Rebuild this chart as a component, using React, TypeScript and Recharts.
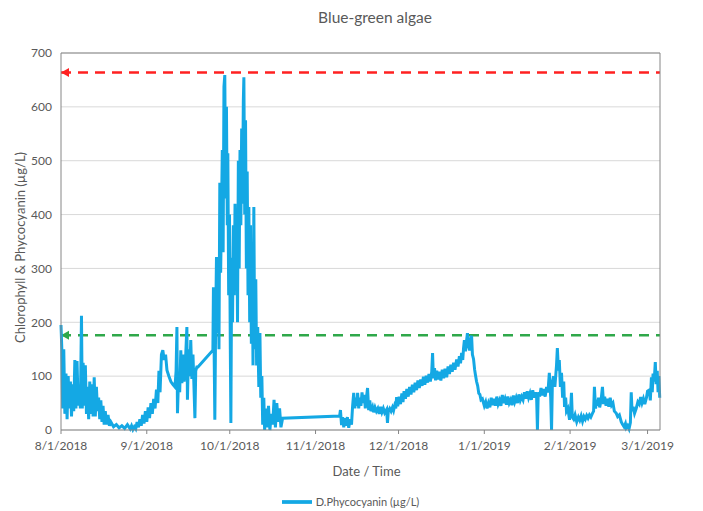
import React from 'react';
import { LineChart, Line, XAxis, YAxis, CartesianGrid, ReferenceLine, Legend } from 'recharts';

// x values are days counted from 8/1/2018
const monthTicks = [0, 31, 61, 92, 122, 153, 184, 212];
const monthLabels = ['8/1/2018', '9/1/2018', '10/1/2018', '11/1/2018', '12/1/2018', '1/1/2019', '2/1/2019', '3/1/2019'];
const leftTicks = [0, 100, 200, 300, 400, 500, 600, 700];
const rightTicks = [0, 0.2, 0.4, 0.6, 0.8, 1, 1.2];

const upperLimit = 664;
const lowerLimit = 176;

// [day, D.Phycocyanin ug/L]
const augReadings = [
	[0, 195], [0.3, 150], [0.6, 40], [1, 150], [1.4, 30], [1.8, 105], [2.2, 20], [2.6, 100], [3, 40], [3.4, 90],
	[3.8, 25], [4.2, 85], [4.6, 35], [5, 130], [5.4, 40], [5.8, 128], [6.2, 45], [6.6, 80], [7, 40], [7.4, 212],
	[7.7, 40], [8, 125], [8.4, 45], [8.8, 120], [9.2, 30], [9.6, 80], [10, 20], [10.4, 90], [10.8, 30], [11.2, 85],
	[11.6, 25], [12, 98], [12.4, 25], [12.8, 80], [13.2, 35], [13.6, 60], [14, 20], [14.4, 55], [14.8, 15], [15.2, 45],
	[15.6, 10], [16, 35], [16.5, 10], [17, 28], [17.5, 8], [18, 15], [19, 6], [20, 10], [21, 4], [22, 8],
	[23, 3], [24, 10], [25, 2], [25.5, 8], [26, 1], [26.5, 6], [27, 2], [27.5, 15], [28, 5], [28.5, 20],
	[29, 8], [29.5, 28], [30, 12], [30.5, 35],
];

const sepReadings = [
	[31, 15], [31.5, 42], [32, 22], [32.5, 50], [33, 30], [33.5, 58], [34, 40], [34.5, 75], [35, 50], [35.4, 110],
	[35.8, 70], [36.3, 140], [36.8, 148], [37.3, 130], [37.8, 140], [38.3, 111], [39, 100], [39.7, 90], [40.4, 85], [41.2, 80],
	[41.6, 110], [41.9, 191], [42.1, 31], [42.5, 100], [42.9, 70], [43.3, 148], [43.7, 87], [44.1, 140], [44.5, 90], [45, 130],
	[45.5, 191], [45.7, 56], [46.1, 150], [46.5, 100], [46.9, 167], [47.3, 95], [47.7, 140], [48, 90], [48.4, 22], [48.7, 110],
	[49.1, 117], [49.5, 117], [54.9, 148], [55.1, 265], [55.4, 120], [55.6, 19], [55.9, 200], [56.2, 321], [56.5, 180], [56.8, 300],
	[57.1, 150], [57.4, 459], [57.7, 292], [58, 400], [58.3, 520], [58.6, 330], [58.9, 637], [59.2, 659], [59.5, 430], [59.8, 600],
	[60.1, 380], [60.3, 514], [60.6, 250],
];

const octReadings = [
	[60.9, 400], [61.2, 150], [61.4, 13], [61.7, 320], [62, 200], [62.3, 380], [62.6, 250], [62.9, 420], [63.2, 300], [63.5, 390],
	[63.8, 200], [64.1, 500], [64.4, 300], [64.7, 520], [65, 380], [65.3, 560], [65.6, 420], [65.9, 610], [66.1, 655], [66.4, 400],
	[66.7, 575], [67, 300], [67.3, 480], [67.6, 250], [67.9, 414], [68.2, 200], [68.5, 380], [68.8, 160], [69.1, 300], [69.4, 120],
	[69.7, 414], [70, 150], [70.4, 280], [70.7, 120], [71.1, 191], [71.5, 80], [71.9, 180], [72.2, 60], [72.6, 100], [72.9, 10],
	[73.3, 60], [73.6, 0], [74, 40], [74.5, 5], [75, 45], [75.5, 0], [76, 30], [76.5, 10], [77, 56], [77.5, 5],
	[78, 50], [78.5, 15], [79, 40], [79.5, 5], [80.1, 22],
];

const novReadings = [
	[100.7, 26], [101, 37], [101.4, 9], [101.8, 24], [102.2, 5], [102.6, 22], [103, 8], [103.5, 24], [104, 4], [104.5, 20],
	[105, 10], [105.4, 45], [105.8, 69], [106.2, 40], [106.6, 60], [107, 45], [107.2, 69], [107.6, 40], [108, 60], [108.4, 45],
	[108.8, 70], [109.2, 50], [109.6, 65], [110, 40], [110.4, 60], [110.8, 78], [111.2, 37], [111.6, 55], [112, 35], [112.6, 43],
	[113, 33], [113.5, 42], [114, 35], [114.5, 40], [115, 30], [115.5, 43], [116, 33], [116.5, 40], [117, 32], [117.7, 38],
	[118, 13], [118.3, 35], [118.8, 40], [119.3, 35], [119.8, 42], [120.2, 36], [120.6, 45], [121, 40], [121.3, 61],
];

const decReadings = [
	[121.7, 44], [122.2, 62], [122.7, 48], [123.2, 68], [123.6, 52], [124, 72], [124.5, 58], [125, 76], [125.5, 62], [126, 80],
	[126.5, 66], [127, 84], [127.5, 70], [128, 88], [128.5, 74], [129, 92], [129.5, 78], [130, 94], [130.5, 82], [131, 99],
	[131.5, 84], [132, 101], [132.5, 88], [133, 104], [133.5, 90], [134, 108], [134.3, 143], [134.6, 96], [135, 115], [135.4, 92],
	[135.8, 110], [136.3, 94], [136.8, 108], [137.3, 92], [137.8, 112], [138.3, 96], [138.8, 114], [139.4, 98], [139.9, 118], [140.4, 104],
	[140.9, 121], [141.4, 108], [141.9, 125], [142.4, 112], [143, 131], [143.5, 118], [144, 137], [144.4, 124], [144.8, 143], [145.2, 130],
	[145.5, 152], [145.8, 167], [146.2, 146], [146.5, 162], [146.9, 180], [147.3, 156], [147.7, 148], [148, 168], [148.4, 175], [148.7, 140],
	[149.1, 132], [149.5, 112], [149.8, 102], [150.2, 90], [150.6, 82], [151, 68], [151.4, 66], [151.8, 56], [152.3, 58],
];

const janReadings = [
	[153, 45], [153.5, 52], [154, 40], [154.5, 50], [155, 42], [155.5, 60], [156, 46], [156.5, 58], [157, 45], [157.5, 62],
	[158, 48], [158.5, 55], [159, 45], [159.5, 65], [160, 50], [160.5, 58], [161, 47], [161.5, 62], [162, 50], [162.5, 56],
	[163, 46], [163.5, 64], [164, 52], [164.5, 60], [165, 50], [165.5, 66], [166, 55], [166.5, 62], [167, 56], [167.5, 70],
	[168, 58], [168.5, 72], [169, 60], [169.5, 68], [170, 56], [170.5, 74], [171, 60], [171.5, 70], [171.9, 62], [172.2, 0],
	[172.5, 70], [173, 62], [173.5, 78], [174, 64], [174.5, 76], [175, 62], [175.5, 80], [176, 70], [176.5, 106], [177, 60],
	[177.3, 0], [177.6, 87], [178, 100], [178.5, 80], [179.1, 120], [179.4, 152], [179.8, 110], [180.1, 130], [180.5, 80], [180.9, 106],
	[181.3, 60], [181.7, 90], [182, 43], [182.4, 60], [182.7, 35], [183.2, 40], [183.8, 19],
];

const febReadings = [
	[184.2, 40], [184.5, 69], [184.8, 24], [185.3, 20], [185.8, 28], [186.4, 15], [187, 24], [187.5, 18], [188, 26], [188.5, 16],
	[189, 25], [189.5, 20], [190, 27], [190.5, 22], [191, 28], [191.5, 24], [192, 30], [192.5, 35], [192.8, 80], [193.2, 40],
	[193.6, 56], [193.9, 45], [194.3, 60], [194.7, 42], [195.2, 55], [195.7, 80], [196.1, 48], [196.5, 62], [197, 45], [197.5, 58],
	[198, 43], [198.5, 60], [199, 46], [199.5, 50], [200, 35], [200.7, 31], [201.2, 25], [201.8, 28], [202.5, 15], [203, 10],
	[203.5, 6], [204, 12], [204.3, 4], [204.8, 8], [205.3, 2], [205.8, 14], [206.1, 70], [206.4, 35], [206.8, 43], [207.3, 31],
	[207.9, 40], [208.5, 52], [209, 48], [209.5, 61], [210, 50], [210.5, 58], [211, 48], [211.6, 60],
];

const marReadings = [
	[212, 72], [212.6, 74], [213, 55], [213.4, 98], [213.7, 70], [214, 105], [214.4, 90], [214.8, 126], [215.1, 85], [215.5, 110],
	[215.8, 70], [216.1, 100], [216.4, 60],
];

const allReadings = [...augReadings, ...sepReadings, ...octReadings, ...novReadings, ...decReadings, ...janReadings, ...febReadings, ...marReadings];

const gray = '#595959';
const axisGray = '#868686';

function LimitArrow(props: any) {
	const vb = props.viewBox;
	if (!vb) return null;
	const x = vb.x;
	const y = vb.y;
	return <polygon points={`${x},${y} ${x + 8},${y - 4.5} ${x + 8},${y + 4.5}`} fill={props.color} />;
}

export default function App() {
	var data = allReadings.map((r) => ({ day: r[0], phyco: r[1] }));

	return (
		<div style={{ position: 'relative', width: 695, height: 500, fontFamily: 'Lato, sans-serif' }}>
			<div style={{ position: 'absolute', left: 367, top: 0, transform: 'translateX(-50%)', fontSize: 15.5, color: gray, whiteSpace: 'nowrap' }}>
				Blue-green algae
			</div>
			<LineChart width={695} height={500} data={data} margin={{ top: 45, right: 0, bottom: 48, left: 0 }} style={{ fontFamily: 'Lato, sans-serif' }}>
				<CartesianGrid yAxisId="left" vertical={false} stroke="#d9d9d9" strokeWidth={1} />
				<XAxis
					dataKey="day"
					type="number"
					domain={[0, 216.5]}
					ticks={monthTicks}
					tickFormatter={(v) => monthLabels[monthTicks.indexOf(v)]}
					height={30}
					tickSize={4}
					tickMargin={7}
					stroke={axisGray}
					tick={{ fill: gray, fontSize: 12 }}
					label={(p: any) => (
						<text x={p.viewBox.x + p.viewBox.width / 2 + 6} y={p.viewBox.y + p.viewBox.height + 16} textAnchor="middle" fill={gray} fontSize={13}>
							Date / Time
						</text>
					)}
				/>
				<YAxis
					yAxisId="left"
					domain={[0, 700]}
					ticks={leftTicks}
					width={53}
					tickLine={false}
					tickMargin={3}
					stroke={axisGray}
					tick={{ fill: gray, fontSize: 12 }}
					label={(p: any) => {
						const cx = p.viewBox.x + 12;
						const cy = p.viewBox.y + p.viewBox.height / 2 + 6;
						return (
							<text x={cx} y={cy} transform={`rotate(-90 ${cx} ${cy})`} textAnchor="middle" dominantBaseline="central" fill={gray} fontSize={13}>
								Chlorophyll &amp; Phycocyanin (µg/L)
							</text>
						);
					}}
				/>
				<YAxis
					yAxisId="right"
					orientation="right"
					domain={[0, 1.2]}
					ticks={rightTicks}
					width={43}
					tickLine={false}
					tickMargin={6}
					stroke={axisGray}
					tick={{ fill: gray, fontSize: 12 }}
				/>
				<ReferenceLine yAxisId="left" y={700} stroke={axisGray} strokeWidth={1} />
				<ReferenceLine yAxisId="left" y={upperLimit} stroke="#ff2121" strokeWidth={2.5} strokeDasharray="10 7" label={<LimitArrow color="#ff2121" />} />
				<ReferenceLine yAxisId="left" y={lowerLimit} stroke="#2fa84a" strokeWidth={2.5} strokeDasharray="10 7" label={<LimitArrow color="#2fa84a" />} />
				<Line
					yAxisId="left"
					type="linear"
					dataKey="phyco"
					name="D.Phycocyanin (µg/L)"
					stroke="#14a8e4"
					strokeWidth={3}
					dot={false}
					legendType="plainline"
					isAnimationActive={false}
				/>
				<Legend
					layout="horizontal"
					verticalAlign="middle"
					align="center"
					iconSize={30}
					wrapperStyle={{ top: 479, left: 0, width: 695 }}
					formatter={(value) => <span style={{ color: gray, fontSize: 11 }}>{value}</span>}
				/>
			</LineChart>
		</div>
	);
}
